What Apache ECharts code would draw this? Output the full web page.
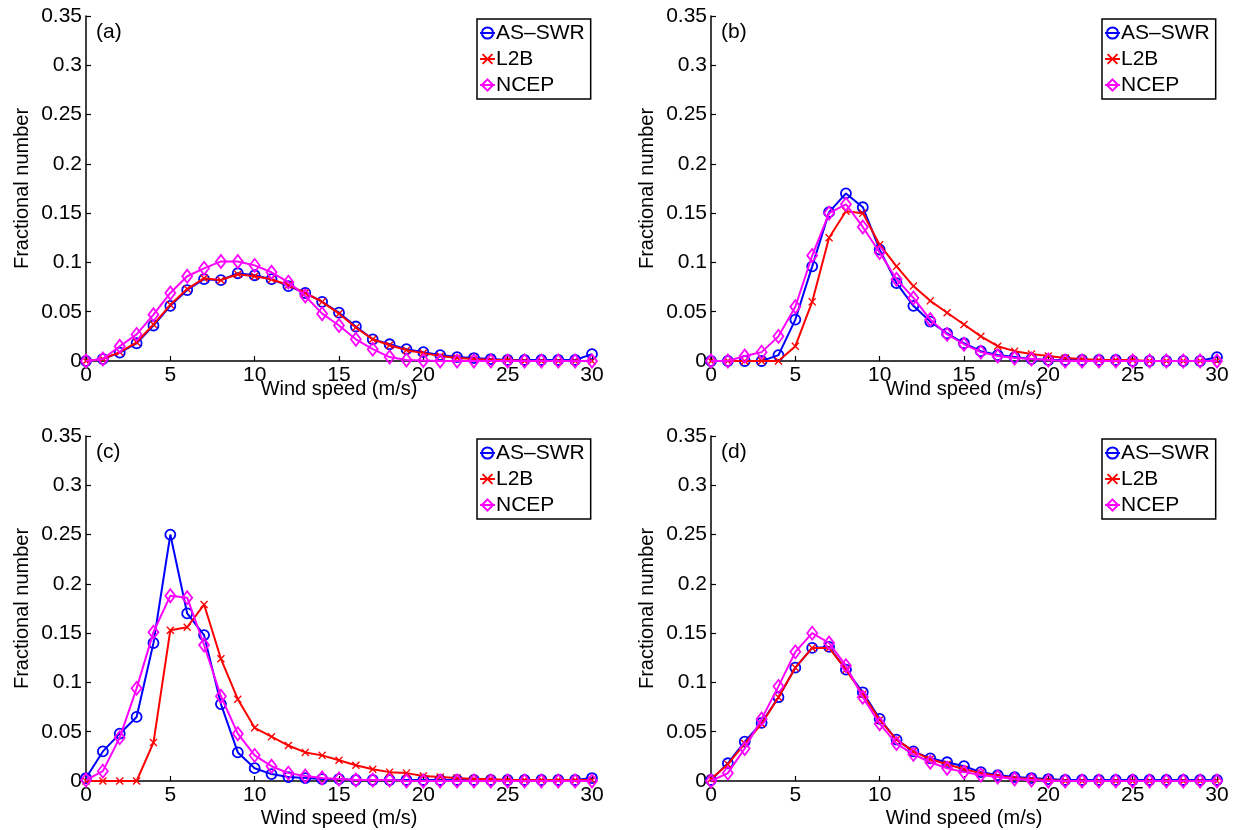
<!DOCTYPE html>
<html>
<head>
<meta charset="utf-8">
<script src="https://cdn.jsdelivr.net/npm/echarts@6/dist/echarts.min.js"></script>
<style>
  html, body { margin: 0; padding: 0; background: #fff; }
  #chart { width: 1237px; height: 830px; }
</style>
</head>
<body>
<div id="chart"></div>
<script>
// Wind speed bins (m/s)
const windSpeed = [0,1,2,3,4,5,6,7,8,9,10,11,12,13,14,15,16,17,18,19,20,21,22,23,24,25,26,27,28,29,30];
const seriesNames = ['AS\u2013SWR', 'L2B', 'NCEP'];
const panelLabels = ['(a)', '(b)', '(c)', '(d)'];
const xTicks = [0, 5, 10, 15, 20, 25, 30];
const yTicks = [0, 0.05, 0.1, 0.15, 0.2, 0.25, 0.3, 0.35];

// Panel (a)
const asswrA = [0,0.002,0.0085,0.018,0.036,0.056,0.072,0.083,0.082,0.089,0.087,0.083,0.076,0.069,0.060,0.049,0.035,0.022,0.017,0.012,0.009,0.006,0.004,0.003,0.002,0.001,0.001,0.001,0.001,0.001,0.007];
const l2bA   = [0,0.002,0.009,0.019,0.037,0.057,0.073,0.084,0.082,0.088,0.086,0.083,0.077,0.069,0.060,0.048,0.034,0.022,0.016,0.011,0.008,0.005,0.003,0.002,0.001,0.001,0,0,0,0,0];
const ncepA  = [0,0.002,0.015,0.027,0.047,0.069,0.086,0.094,0.101,0.101,0.097,0.090,0.080,0.066,0.048,0.036,0.022,0.012,0.004,0.001,0.0005,0,0,0,0,0,0,0,0,0,0];

// Panel (b)
const asswrB = [0,0,0,0,0.006,0.042,0.096,0.151,0.170,0.156,0.113,0.079,0.056,0.040,0.028,0.018,0.010,0.006,0.004,0.002,0.001,0.001,0.001,0.001,0.001,0,0,0,0,0,0.004];
const l2bB   = [0,0,0,0,0,0.015,0.060,0.125,0.152,0.150,0.118,0.096,0.076,0.061,0.049,0.037,0.025,0.015,0.010,0.007,0.005,0.003,0.002,0.001,0.001,0.001,0,0,0,0,0];
const ncepB  = [0,0,0.005,0.009,0.025,0.055,0.107,0.150,0.159,0.136,0.110,0.083,0.064,0.042,0.027,0.017,0.009,0.005,0.003,0.002,0.001,0,0,0,0,0,0,0,0,0,0];

// Panel (c)
const asswrC = [0.003,0.030,0.048,0.065,0.140,0.250,0.170,0.148,0.078,0.029,0.013,0.007,0.004,0.003,0.002,0.002,0.001,0.001,0.001,0.001,0.001,0.001,0.001,0.001,0.001,0.001,0.001,0.001,0.001,0.001,0.003];
const l2bC   = [0,0,0,0,0.039,0.153,0.156,0.179,0.124,0.083,0.054,0.045,0.036,0.029,0.026,0.021,0.016,0.012,0.009,0.008,0.005,0.004,0.003,0.002,0.002,0.001,0.001,0.001,0.001,0.001,0.001];
const ncepC  = [0.001,0.010,0.044,0.094,0.151,0.188,0.186,0.138,0.086,0.048,0.026,0.015,0.008,0.005,0.003,0.002,0.001,0.001,0.001,0,0,0,0,0,0,0,0,0,0,0,0];

// Panel (d)
const asswrD = [0.001,0.018,0.040,0.059,0.085,0.115,0.135,0.136,0.113,0.090,0.063,0.042,0.030,0.023,0.019,0.015,0.009,0.006,0.004,0.003,0.002,0.001,0.001,0.001,0.001,0.001,0.001,0.001,0.001,0.001,0.001];
const l2bD   = [0.002,0.017,0.038,0.058,0.085,0.115,0.135,0.135,0.113,0.088,0.062,0.042,0.030,0.022,0.017,0.012,0.008,0.005,0.003,0.002,0.001,0,0,0,0,0,0,0,0,0,0];
const ncepD  = [0,0.008,0.033,0.063,0.096,0.131,0.150,0.140,0.117,0.085,0.058,0.038,0.027,0.019,0.013,0.009,0.006,0.004,0.002,0.001,0,0,0,0,0,0,0,0,0,0,0];

const panels = [
  [asswrA, l2bA, ncepA],
  [asswrB, l2bB, ncepB],
  [asswrC, l2bC, ncepC],
  [asswrD, l2bD, ncepD]
];

const FONT = '"Liberation Sans", Arial, Helvetica, sans-serif';
const colors = ['#0000ff', '#ff0000', '#ff00ff'];
const crossPath = 'path://M0,1.2 L1.2,0 L5,3.8 L8.8,0 L10,1.2 L6.2,5 L10,8.8 L8.8,10 L5,6.2 L1.2,10 L0,8.8 L3.8,5 Z';
const markerDefs = [
  { symbol: 'circle', symbolSize: 10, itemStyle: { color: 'rgba(0,0,0,0)', borderColor: colors[0], borderWidth: 1.8 } },
  { symbol: crossPath, symbolSize: 8, itemStyle: { color: colors[1], borderWidth: 0 } },
  { symbol: 'diamond', symbolSize: [10, 13], itemStyle: { color: 'rgba(0,0,0,0)', borderColor: colors[2], borderWidth: 1.8 } }
];

// Panel placement (pixels)
const gridBoxes = [
  { left: 86,  top: 16,  width: 506, height: 345, xNameGap: 18 },
  { left: 711, top: 16,  width: 506, height: 345, xNameGap: 18 },
  { left: 86,  top: 436, width: 506, height: 345, xNameGap: 27 },
  { left: 711, top: 436, width: 506, height: 345, xNameGap: 27 }
];

const grid = [], xAxis = [], yAxis = [], series = [], legend = [], graphic = [];

gridBoxes.forEach((g, i) => {
  grid.push({ left: g.left, top: g.top, width: g.width, height: g.height, containLabel: false });
  xAxis.push({
    type: 'value', gridIndex: i, min: 0, max: 30, interval: 5,
    name: 'Wind speed (m/s)', nameLocation: 'middle', nameGap: g.xNameGap,
    nameMoveOverlap: false,
    nameTextStyle: { fontFamily: FONT, fontSize: 20, color: '#000', verticalAlign: 'top' },
    axisLine: { show: true, onZero: false, lineStyle: { color: '#000', width: 1.5 } },
    axisTick: { show: true, inside: true, length: 5, lineStyle: { color: '#000', width: 1.2 } },
    axisLabel: { fontFamily: FONT, fontSize: 21, color: '#000', margin: 4,
      formatter: v => xTicks.includes(v) ? String(v) : '' },
    splitLine: { show: false }
  });
  yAxis.push({
    type: 'value', gridIndex: i, min: 0, max: 0.35, interval: 0.05,
    name: 'Fractional number', nameLocation: 'middle', nameGap: 54, nameRotate: 90,
    nameMoveOverlap: false,
    nameTextStyle: { fontFamily: FONT, fontSize: 20, color: '#000' },
    axisLine: { show: true, onZero: false, lineStyle: { color: '#000', width: 1.5 } },
    axisTick: { show: true, inside: true, length: 5, lineStyle: { color: '#000', width: 1.2 } },
    axisLabel: { fontFamily: FONT, fontSize: 21, color: '#000', margin: 4,
      formatter: v => {
        const t = yTicks.find(y => Math.abs(y - v) < 1e-9);
        return t === undefined ? '' : String(+t.toFixed(2));
      } },
    splitLine: { show: false }
  });

  panels[i].forEach((vals, k) => {
    series.push(Object.assign({
      name: seriesNames[k], type: 'line', xAxisIndex: i, yAxisIndex: i,
      data: windSpeed.map((x, j) => [x, vals[j]]),
      showAllSymbol: true,
      lineStyle: { color: colors[k], width: 2 },
      color: colors[k],
      z: 2 + k,
      animation: false
    }, markerDefs[k]));
  });

  legend.push({
    left: g.left + g.width - 115, top: g.top + 3,
    orient: 'vertical',
    data: seriesNames,
    itemWidth: 15, itemHeight: 14, itemGap: 4,
    padding: [3, 6, 3, 2],
    borderColor: '#000', borderWidth: 1.5, borderRadius: 0,
    backgroundColor: '#fff',
    selectedMode: false,
    textStyle: { fontFamily: FONT, fontSize: 21, color: '#000', padding: [0, 0, 0, -4], lineHeight: 22 }
  });

  graphic.push({
    type: 'text', left: g.left + 10, top: g.top + 6,
    style: { text: panelLabels[i], fontFamily: FONT, fontSize: 21, fill: '#000' }
  });
});

const chart = echarts.init(document.getElementById('chart'), null, { renderer: 'canvas' });
chart.setOption({
  backgroundColor: '#fff',
  animation: false,
  grid, xAxis, yAxis, series, legend, graphic
});
</script>
</body>
</html>
